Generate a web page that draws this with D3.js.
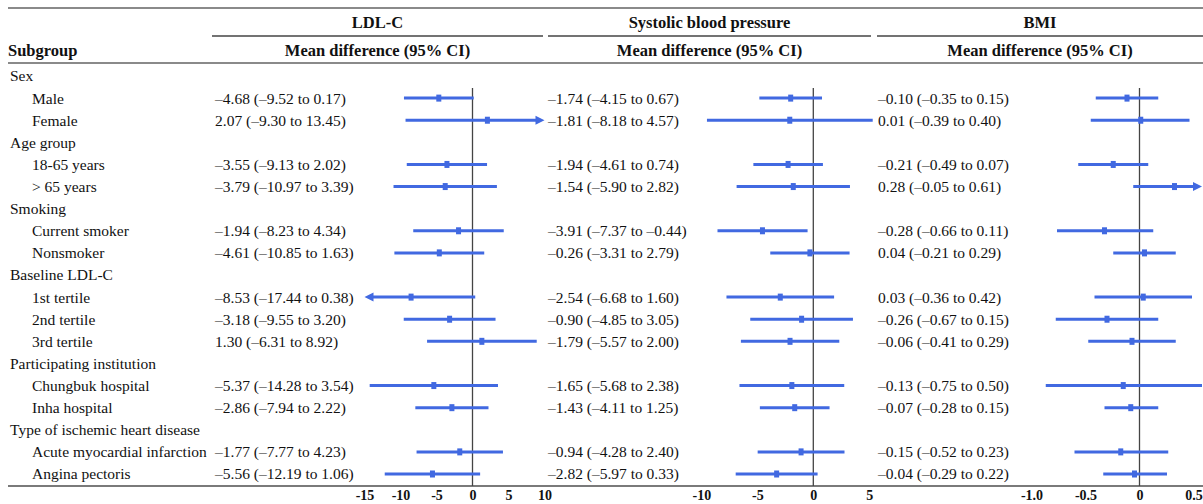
<!DOCTYPE html>
<html>
<head>
<meta charset="utf-8">
<script src="https://cdn.jsdelivr.net/npm/d3@7"></script>
<style>
  body { margin: 0; background: #fff; }
  svg text { font-family: "Liberation Serif", "Times New Roman", serif; fill: #111; }
</style>
</head>
<body>
<svg id="chart" width="1203" height="504"></svg>
<script>
  // subgroup structure
  const groups = ["Sex", "Age group", "Smoking", "Baseline LDL-C", "Participating institution", "Type of ischemic heart disease"];
  const subgroups = ["Male", "Female", "18-65 years", "> 65 years", "Current smoker", "Nonsmoker",
    "1st tertile", "2nd tertile", "3rd tertile", "Chungbuk hospital", "Inha hospital",
    "Acute myocardial infarction", "Angina pectoris"];
  const subgroupOf = [0, 0, 1, 1, 2, 2, 3, 3, 3, 4, 4, 5, 5];

  // LDL-C
  const ldlMean = [-4.68, 2.07, -3.55, -3.79, -1.94, -4.61, -8.53, -3.18, 1.30, -5.37, -2.86, -1.77, -5.56];
  const ldlLow = [-9.52, -9.30, -9.13, -10.97, -8.23, -10.85, -17.44, -9.55, -6.31, -14.28, -7.94, -7.77, -12.19];
  const ldlHigh = [0.17, 13.45, 2.02, 3.39, 4.34, 1.63, 0.38, 3.20, 8.92, 3.54, 2.22, 4.23, 1.06];

  // Systolic blood pressure
  const sbpMean = [-1.74, -1.81, -1.94, -1.54, -3.91, -0.26, -2.54, -0.90, -1.79, -1.65, -1.43, -0.94, -2.82];
  const sbpLow = [-4.15, -8.18, -4.61, -5.90, -7.37, -3.31, -6.68, -4.85, -5.57, -5.68, -4.11, -4.28, -5.97];
  const sbpHigh = [0.67, 4.57, 0.74, 2.82, -0.44, 2.79, 1.60, 3.05, 2.00, 2.38, 1.25, 2.40, 0.33];

  // BMI
  const bmiMean = [-0.10, 0.01, -0.21, 0.28, -0.28, 0.04, 0.03, -0.26, -0.06, -0.13, -0.07, -0.15, -0.04];
  const bmiLow = [-0.35, -0.39, -0.49, -0.05, -0.66, -0.21, -0.36, -0.67, -0.41, -0.75, -0.28, -0.52, -0.29];
  const bmiHigh = [0.15, 0.40, 0.07, 0.61, 0.11, 0.29, 0.42, 0.15, 0.29, 0.50, 0.15, 0.23, 0.22];

  const ldlTicks = [-15, -10, -5, 0, 5, 10];
  const sbpTicks = [-10, -5, 0, 5];
  const bmiTicks = [-1.0, -0.5, 0, 0.5];

  const blue = "#4169e1";
  const svg = d3.select("#chart");

  // panel layout (the tick labels in the source sit on a slightly tighter scale than the bars)
  const panels = [
    { title: "LDL-C", mean: ldlMean, low: ldlLow, high: ldlHigh, domain: [-15, 10],
      range: [364.5, 544.5], tickRange: [364.5, 544.5], ticks: ldlTicks, fmt: d => String(d),
      textX: 215, head: [212, 543] },
    { title: "Systolic blood pressure", mean: sbpMean, low: sbpLow, high: sbpHigh, domain: [-10, 5],
      range: [683.3, 878.3], tickRange: [701.3, 869.3], ticks: sbpTicks, fmt: d => String(d),
      textX: 548, head: [548, 871] },
    { title: "BMI", mean: bmiMean, low: bmiLow, high: bmiHigh, domain: [-1, 0.5],
      range: [1014.5, 1202], tickRange: [1031.5, 1193.5], ticks: bmiTicks,
      fmt: d => d === 0 ? "0" : d.toFixed(1),
      textX: 878, head: [877, 1203] }
  ];

  // rows: group header, then its subgroups
  const rows = [];
  groups.forEach((g, gi) => {
    rows.push({ label: g, header: true });
    subgroups.forEach((s, si) => {
      if (subgroupOf[si] === gi) rows.push({ label: s, header: false, i: si });
    });
  });

  const y = d3.scaleLinear().domain([0, rows.length - 1]).range([76, 474]);
  const axisY = 486;

  const dash = v => v.toFixed(2).replace("-", "\u2013");

  // rules
  const rule = (x1, x2, yy, w, c) => svg.append("line")
    .attr("x1", x1).attr("x2", x2).attr("y1", yy).attr("y2", yy)
    .attr("stroke", c).attr("stroke-width", w);
  rule(8, 1203, 8, 2, "#8a8a8a");
  rule(8, 1203, 63, 2, "#8a8a8a");
  rule(8, 1203, axisY, 2, "#7a7a7a");

  svg.append("text").attr("x", 8).attr("y", 50).attr("dy", "0.35em")
    .attr("font-size", 16.5).attr("font-weight", "bold").text("Subgroup");

  // row labels
  svg.append("g").selectAll("text").data(rows).join("text")
    .attr("x", d => d.header ? 10 : 32)
    .attr("y", (d, i) => y(i))
    .attr("dy", "0.35em")
    .attr("font-size", 15.5)
    .text(d => d.label);

  panels.forEach(p => {
    const x = d3.scaleLinear().domain(p.domain).range(p.range);
    const xt = d3.scaleLinear().domain(p.domain).range(p.tickRange);
    const cx = (p.head[0] + p.head[1]) / 2;
    const g = svg.append("g");

    g.append("text").attr("x", cx).attr("y", 22).attr("dy", "0.35em")
      .attr("text-anchor", "middle").attr("font-size", 16.5).attr("font-weight", "bold").text(p.title);
    g.append("line").attr("x1", p.head[0]).attr("x2", p.head[1]).attr("y1", 36).attr("y2", 36)
      .attr("stroke", "#444").attr("stroke-width", 1.3);
    g.append("text").attr("x", cx).attr("y", 50).attr("dy", "0.35em")
      .attr("text-anchor", "middle").attr("font-size", 16.5).attr("font-weight", "bold")
      .text("Mean difference (95% CI)");

    const items = rows.map((r, ri) => ({ ...r, ri })).filter(r => !r.header);

    // estimate text
    g.append("g").selectAll("text").data(items).join("text")
      .attr("x", p.textX)
      .attr("y", d => y(d.ri))
      .attr("dy", "0.35em")
      .attr("font-size", 15.5)
      .text(d => `${dash(p.mean[d.i])} (${dash(p.low[d.i])} to ${dash(p.high[d.i])})`);

    // zero line
    g.append("line").attr("x1", x(0)).attr("x2", x(0)).attr("y1", 88).attr("y2", axisY)
      .attr("stroke", "#444").attr("stroke-width", 1.3);

    const [dmin, dmax] = p.domain;
    const ci = g.append("g").selectAll("g").data(items).join("g")
      .attr("transform", d => `translate(0,${y(d.ri)})`);

    ci.append("line")
      .attr("x1", d => x(Math.max(p.low[d.i], dmin)) + (p.low[d.i] < dmin ? 6 : 0))
      .attr("x2", d => x(Math.min(p.high[d.i], dmax)) - (p.high[d.i] > dmax ? 6 : 0))
      .attr("stroke", blue).attr("stroke-width", 3);

    ci.filter(d => p.low[d.i] < dmin).append("path")
      .attr("d", `M${x(dmin)},0 l9,-4.5 l0,9 z`).attr("fill", blue);
    ci.filter(d => p.high[d.i] > dmax).append("path")
      .attr("d", `M${x(dmax)},0 l-9,-4.5 l0,9 z`).attr("fill", blue);

    ci.append("rect")
      .attr("x", d => x(p.mean[d.i]) - 2.5).attr("y", -3.5)
      .attr("width", 5).attr("height", 7).attr("fill", blue);

    // axis labels
    const ax = g.append("g").attr("transform", `translate(0,${axisY})`)
      .call(d3.axisBottom(xt).tickValues(p.ticks).tickSize(0).tickPadding(4).tickFormat(p.fmt));
    ax.select(".domain").remove();
    ax.selectAll("text").attr("font-size", 14).attr("font-weight", "bold")
      .attr("font-family", "Liberation Serif, serif").attr("fill", "#111");
  });
</script>
</body>
</html>
